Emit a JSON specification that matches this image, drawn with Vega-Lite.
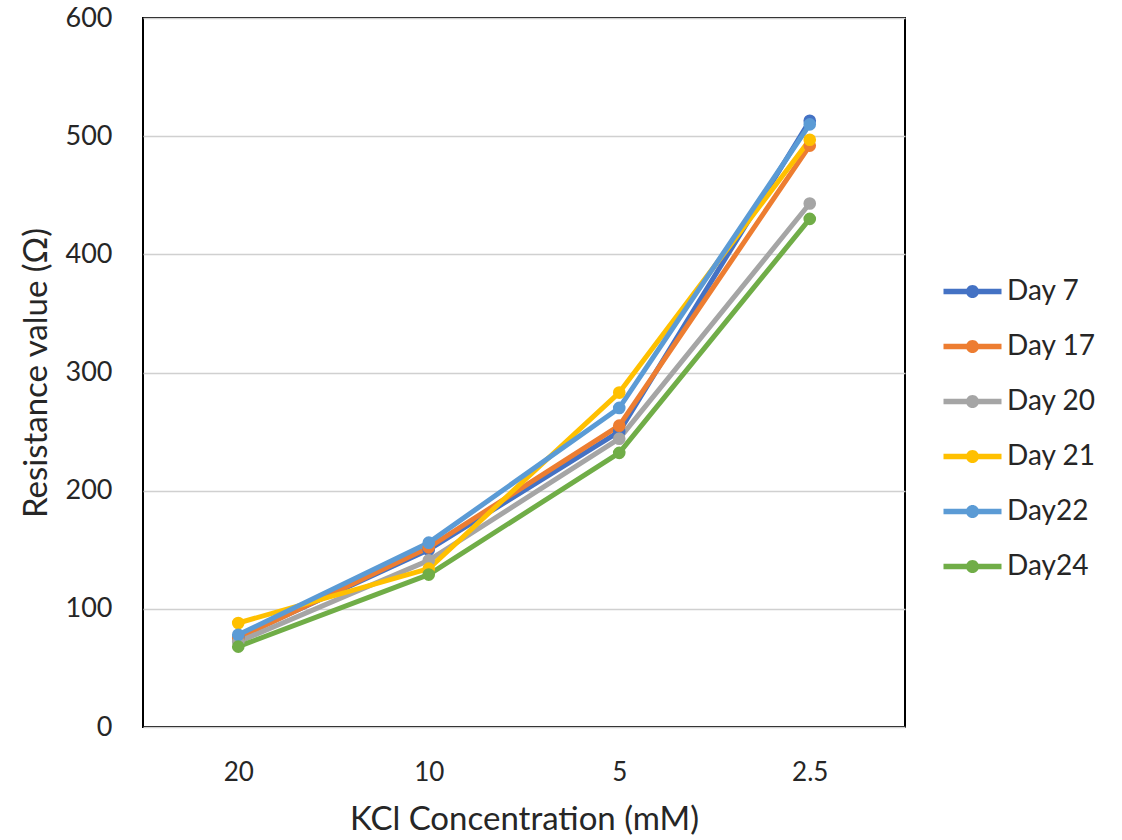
{
  "$schema": "https://vega.github.io/schema/vega-lite/v6.json",
  "autosize": "none",
  "width": 762,
  "height": 709,
  "padding": {"left": 143, "top": 18, "right": 217, "bottom": 113},
  "background": "white",
  "config": {
    "view": {"stroke": "#000000", "strokeWidth": 2},
    "font": "Lato"
  },
  "data": {
    "values": [
      {"conc": "20", "day": "Day 7", "resistance": 76},
      {"conc": "10", "day": "Day 7", "resistance": 150},
      {"conc": "5", "day": "Day 7", "resistance": 250},
      {"conc": "2.5", "day": "Day 7", "resistance": 513},
      {"conc": "20", "day": "Day 17", "resistance": 75},
      {"conc": "10", "day": "Day 17", "resistance": 152},
      {"conc": "5", "day": "Day 17", "resistance": 255},
      {"conc": "2.5", "day": "Day 17", "resistance": 492},
      {"conc": "20", "day": "Day 20", "resistance": 72},
      {"conc": "10", "day": "Day 20", "resistance": 141},
      {"conc": "5", "day": "Day 20", "resistance": 244},
      {"conc": "2.5", "day": "Day 20", "resistance": 443},
      {"conc": "20", "day": "Day 21", "resistance": 88},
      {"conc": "10", "day": "Day 21", "resistance": 134},
      {"conc": "5", "day": "Day 21", "resistance": 283},
      {"conc": "2.5", "day": "Day 21", "resistance": 497},
      {"conc": "20", "day": "Day22", "resistance": 78},
      {"conc": "10", "day": "Day22", "resistance": 156},
      {"conc": "5", "day": "Day22", "resistance": 270},
      {"conc": "2.5", "day": "Day22", "resistance": 510},
      {"conc": "20", "day": "Day24", "resistance": 68},
      {"conc": "10", "day": "Day24", "resistance": 129},
      {"conc": "5", "day": "Day24", "resistance": 232},
      {"conc": "2.5", "day": "Day24", "resistance": 430}
    ]
  },
  "encoding": {
    "x": {
      "field": "conc",
      "type": "ordinal",
      "sort": ["20", "10", "5", "2.5"],
      "scale": {"type": "point", "padding": 0.5},
      "axis": {
        "title": "KCl Concentration (mM)",
        "titleFont": "Lato",
        "titleFontSize": 33,
        "titleFontWeight": "normal",
        "titleColor": "#262626",
        "titlePadding": 18,
        "labelFont": "Lato",
        "labelFontSize": 26,
        "labelColor": "#262626",
        "labelPadding": 32,
        "labelAngle": 0,
        "domain": false,
        "ticks": false,
        "grid": false
      }
    },
    "y": {
      "field": "resistance",
      "type": "quantitative",
      "scale": {"domain": [0, 600], "nice": false},
      "axis": {
        "title": "Resistance value (Ω)",
        "titleFont": "Lato",
        "titleFontSize": 33,
        "titleFontWeight": "normal",
        "titleColor": "#262626",
        "titlePadding": 12,
        "labelFont": "Lato",
        "labelFontSize": 27,
        "labelColor": "#262626",
        "labelPadding": 31,
        "values": [0, 100, 200, 300, 400, 500, 600],
        "domain": false,
        "ticks": false,
        "grid": true,
        "gridColor": "#D0D0D0",
        "gridWidth": 1.5
      }
    },
    "color": {
      "field": "day",
      "type": "nominal",
      "sort": ["Day 7", "Day 17", "Day 20", "Day 21", "Day22", "Day24"],
      "scale": {
        "domain": ["Day 7", "Day 17", "Day 20", "Day 21", "Day22", "Day24"],
        "range": ["#4472C4", "#ED7D31", "#A5A5A5", "#FFC000", "#5B9BD5", "#70AD47"]
      },
      "legend": {
        "title": null,
        "orient": "none",
        "legendX": 815,
        "legendY": 259,
        "padding": 0,
        "symbolType": "M -2 -0.19 L 2 -0.19 L 2 0.19 L -2 0.19 Z M 0.45 0 A 0.45 0.45 0 1 1 -0.45 0 A 0.45 0.45 0 1 1 0.45 0 Z",
        "symbolSize": 841,
        "symbolStrokeWidth": 0,
        "symbolOpacity": 1,
        "labelFont": "Lato",
        "labelFontSize": 28,
        "labelColor": "#262626",
        "labelOffset": 20,
        "rowPadding": 26,
        "encode": {
          "symbols": {
            "update": {
              "fill": {"scale": "color", "field": "value"},
              "stroke": {"value": "transparent"},
              "strokeWidth": {"value": 0}
            }
          }
        }
      }
    }
  },
  "layer": [
    {
      "mark": {"type": "line", "strokeWidth": 5, "strokeCap": "round", "strokeJoin": "round"}
    },
    {
      "mark": {"type": "point", "filled": true, "size": 160, "opacity": 1}
    }
  ]
}
